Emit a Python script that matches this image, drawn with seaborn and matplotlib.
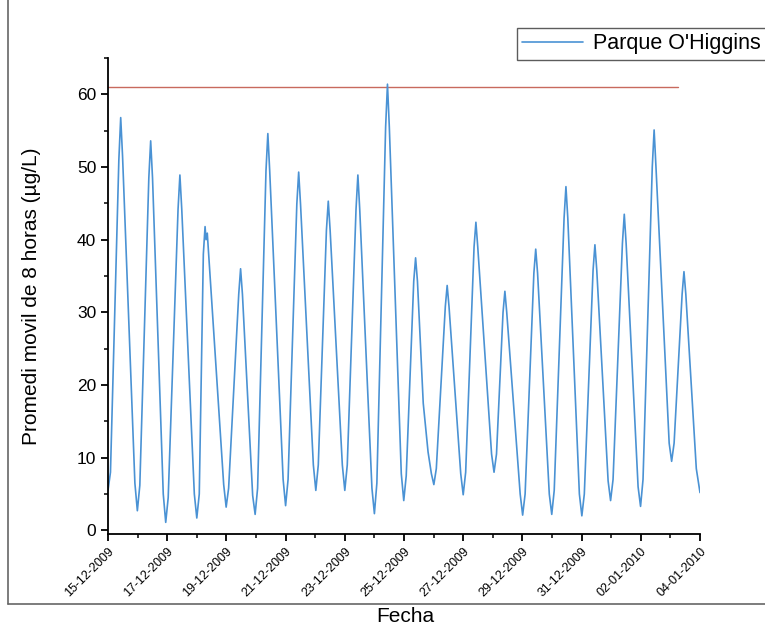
import numpy as np
import pandas as pd
import matplotlib
matplotlib.use("Agg")
import matplotlib.pyplot as plt
import matplotlib.dates as mdates
from matplotlib.lines import Line2D
from matplotlib.ticker import MultipleLocator
import seaborn as sns

# ---------------- data ----------------
start_date = "2009-12-15"
end_date = "2010-01-04"
series_name = "Parque O'Higgins"

# hours since 15-12-2009 00:00
hours = [0, 2, 8.8, 10.3, 11.8, 21.8, 23.8,
         25.8, 33.1, 34.6, 36.1, 44.8, 46.8,
         48.8, 56.8, 58.3, 59.8, 70, 72,
         74, 77.3, 78.7, 79.5, 80.5, 82, 93.8, 95.8,
         97.8, 106, 107.5, 109, 117.3, 119.3,
         121.3, 128.1, 129.6, 131.1, 142, 144,
         146, 153.1, 154.6, 156.1, 166.5, 168.5,
         170.5, 177.1, 178.6, 180.1, 190, 192,
         194, 201.1, 202.6, 204.1, 214, 216,
         218, 225.1, 226.6, 228.1, 237.8, 239.8,
         241.8, 247.9, 249.4, 250.9, 255.6, 259.5, 262.2, 264.2,
         266.2, 273.5, 275, 276.5, 286, 288,
         290, 296.8, 298.3, 299.8, 311, 313,
         315, 320.3, 321.8, 323.3, 334.2, 336.2,
         338.2, 345.3, 346.8, 348.3, 357.8, 359.8,
         361.8, 369.8, 371.3, 372.8, 382.2, 384.2,
         386.2, 393.3, 394.8, 396.3, 405.5, 407.5,
         409.5, 417.1, 418.6, 420.1, 429.8, 431.8,
         433.8, 441.3, 442.8, 444.3, 455, 457,
         459, 465.5, 467, 468.5, 477, 480]

values = [5.5, 8.0, 51.0, 56.8, 51.5, 6.5, 2.7,
          6.2, 48.5, 53.6, 48.5, 5.0, 1.1,
          4.5, 44.2, 48.9, 44.2, 5.0, 1.7,
          5.0, 38.0, 41.8, 40.0, 40.9, 37.0, 6.3, 3.2,
          5.8, 32.5, 36.0, 32.5, 4.8, 2.2,
          5.8, 49.5, 54.6, 49.5, 7.0, 3.4,
          7.0, 44.9, 49.3, 44.9, 9.0, 5.5,
          9.0, 41.3, 45.3, 41.3, 9.0, 5.5,
          9.0, 44.2, 48.9, 44.2, 5.8, 2.3,
          6.5, 55.5, 61.4, 55.5, 7.8, 4.1,
          7.5, 34.3, 37.5, 34.3, 17.5, 10.8, 7.8, 6.3,
          8.5, 30.8, 33.7, 30.8, 7.8, 4.9,
          8.0, 39.0, 42.4, 39.0, 10.5, 8.0,
          10.5, 30.0, 32.9, 30.0, 5.0, 2.1,
          5.0, 35.4, 38.7, 35.4, 5.0, 2.2,
          5.5, 43.0, 47.3, 43.0, 5.0, 2.0,
          5.0, 35.8, 39.3, 35.8, 6.8, 4.1,
          7.0, 39.5, 43.5, 39.5, 6.0, 3.3,
          7.0, 50.0, 55.1, 50.0, 12.0, 9.5,
          12.0, 32.5, 35.6, 32.5, 8.5, 5.2]

# reference (limit) line
limit_value = 61
limit_hours = [0, 462]

y_ticks = [0, 10, 20, 30, 40, 50, 60]
x_label = "Fecha"
y_label = "Promedi movil de 8 horas (\u00b5g/L)"

# ---------------- build frames ----------------
t0 = pd.Timestamp(start_date)
df = pd.DataFrame({"fecha": t0 + pd.to_timedelta(hours, unit="h"),
                   "valor": values})
df_lim = pd.DataFrame({"fecha": t0 + pd.to_timedelta(limit_hours, unit="h"),
                       "valor": [limit_value] * len(limit_hours)})

# ---------------- style ----------------
sns.set_style("ticks")
plt.rcParams["font.family"] = ["Liberation Sans", "DejaVu Sans"]
plt.rcParams["text.color"] = "black"
plt.rcParams["axes.labelcolor"] = "black"
plt.rcParams["xtick.color"] = "black"
plt.rcParams["ytick.color"] = "black"

fig = plt.figure(figsize=(7.65, 6.32), dpi=100)
ax = fig.add_axes([108 / 765, 1 - 534 / 632, (700 - 108) / 765, (534 - 58) / 632])

sns.lineplot(data=df_lim, x="fecha", y="valor", ax=ax, color="#c86a5e",
             linewidth=1.0, estimator=None, sort=False, legend=False)
sns.lineplot(data=df, x="fecha", y="valor", ax=ax, color="#4a92d4",
             linewidth=1.2, estimator=None, sort=False, label=series_name)

ax.set_xlim(pd.Timestamp(start_date), pd.Timestamp(end_date))
ax.set_ylim(-0.5, 65)

major = pd.date_range(start_date, end_date, freq="2D")
minor = pd.date_range(start_date, end_date, freq="1D")
ax.set_xticks(major)
ax.set_xticks(minor, minor=True)
ax.xaxis.set_major_formatter(mdates.DateFormatter("%d-%m-%Y"))
ax.set_yticks(y_ticks)
ax.yaxis.set_minor_locator(MultipleLocator(5))

for lab in ax.get_xticklabels():
    lab.set_rotation(45)
    lab.set_ha("right")
    lab.set_rotation_mode("anchor")
    lab.set_fontsize(9)
    lab.set_color("black")
ax.tick_params(axis="y", labelsize=12.5, labelcolor="black")
ax.tick_params(which="major", direction="out", length=5, width=1.3, color="black")
ax.tick_params(which="minor", direction="out", length=3, width=1.1, color="black")
ax.tick_params(axis="x", pad=3)

for side in ["top", "right"]:
    ax.spines[side].set_visible(False)
for side in ["left", "bottom"]:
    ax.spines[side].set_linewidth(1.3)
    ax.spines[side].set_color("black")

ax.set_xlabel(x_label, fontsize=15, color="black")
ax.set_ylabel(y_label, fontsize=15, color="black")
ax.xaxis.set_label_coords((405 - 108) / (700 - 108), (534 - 607) / (534 - 58))
ax.yaxis.set_label_coords((41 - 108) / (700 - 108), 0.5)

leg = ax.legend(loc="upper left", bbox_to_anchor=(517 / 765, 1 - 28 / 632),
                bbox_transform=fig.transFigure, frameon=True, fancybox=False,
                fontsize=15.5, handlelength=2.8, borderpad=0.25,
                handletextpad=0.5, borderaxespad=0)
leg.get_frame().set_edgecolor("#333333")
leg.get_frame().set_linewidth(1.0)

# scanned page frame
fig.add_artist(Line2D([8 / 765, 8 / 765], [1 - 604 / 632, 1.0],
                      transform=fig.transFigure, color="#666666", lw=1.2))
fig.add_artist(Line2D([8 / 765, 1.0], [1 - 604 / 632, 1 - 604 / 632],
                      transform=fig.transFigure, color="#666666", lw=1.2))

fig.savefig("out.png", dpi=100)
